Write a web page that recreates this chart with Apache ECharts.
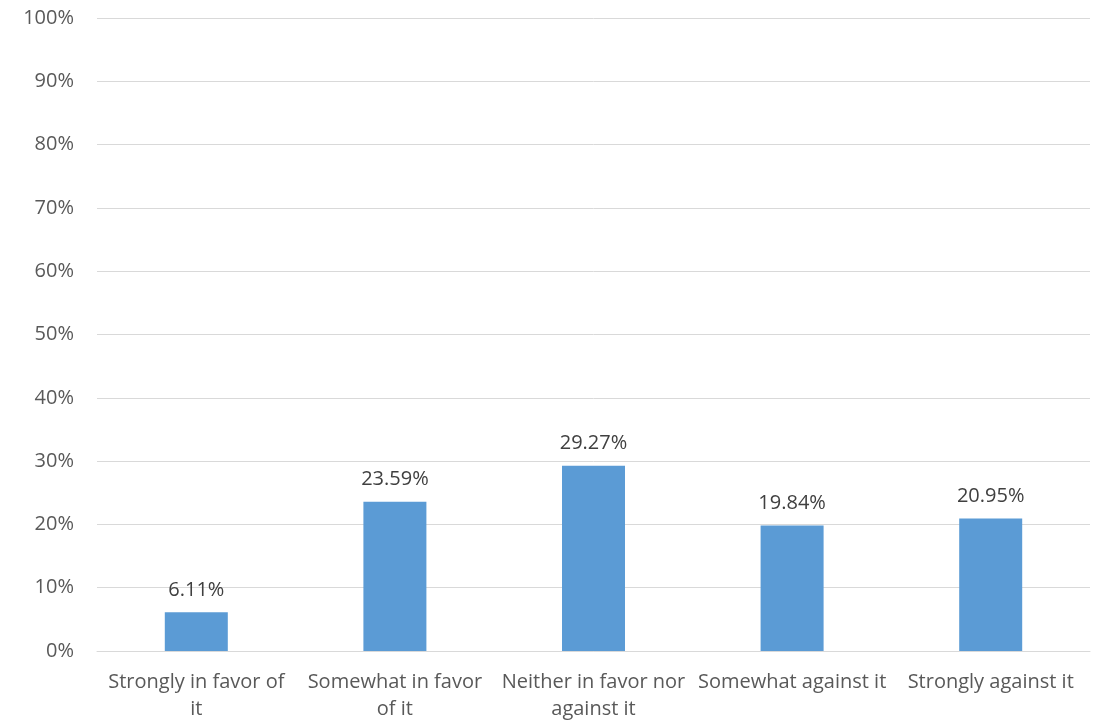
<!DOCTYPE html>
<html>
<head>
<meta charset="utf-8">
<script src="https://cdn.jsdelivr.net/npm/echarts@6/dist/echarts.min.js"></script>
<style>
  html, body { margin: 0; padding: 0; background: #fff; }
  #chart { width: 1104px; height: 721px; }
</style>
</head>
<body>
<div id="chart"></div>
<script>
const categories = [
  'Strongly in favor of\nit',
  'Somewhat in favor\nof it',
  'Neither in favor nor\nagainst it',
  'Somewhat against it',
  'Strongly against it'
]
const values = [6.11, 23.59, 29.27, 19.84, 20.95]
const yTicks = [0, 10, 20, 30, 40, 50, 60, 70, 80, 90, 100]

const font = "'Open Sans', 'Noto Sans', sans-serif"
const chart = echarts.init(document.getElementById('chart'))
chart.setOption({
  animation: false,
  grid: { left: 97, right: 14, top: 18, bottom: 70, outerBoundsMode: 'none', containLabel: false },
  xAxis: {
    type: 'category',
    data: categories,
    axisLine: { lineStyle: { color: '#d9d9d9', width: 1 } },
    axisTick: { show: false },
    axisLabel: {
      color: '#595959',
      fontFamily: font,
      fontSize: 20,
      lineHeight: 27,
      margin: 18,
      interval: 0
    }
  },
  yAxis: {
    type: 'value',
    min: yTicks[0],
    max: yTicks[yTicks.length - 1],
    interval: 10,
    axisLine: { show: false },
    axisTick: { show: false },
    splitLine: { lineStyle: { color: '#d9d9d9', width: 1 } },
    axisLabel: {
      color: '#595959',
      fontFamily: font,
      fontSize: 20,
      margin: 23,
      formatter: v => v + '%'
    }
  },
  series: [{
    type: 'bar',
    data: values,
    barWidth: 63,
    itemStyle: { color: '#5b9bd5' },
    label: {
      show: true,
      position: 'top',
      distance: 12,
      color: '#404040',
      fontFamily: font,
      fontSize: 20,
      formatter: p => p.value.toFixed(2) + '%'
    }
  }]
})
</script>
</body>
</html>
